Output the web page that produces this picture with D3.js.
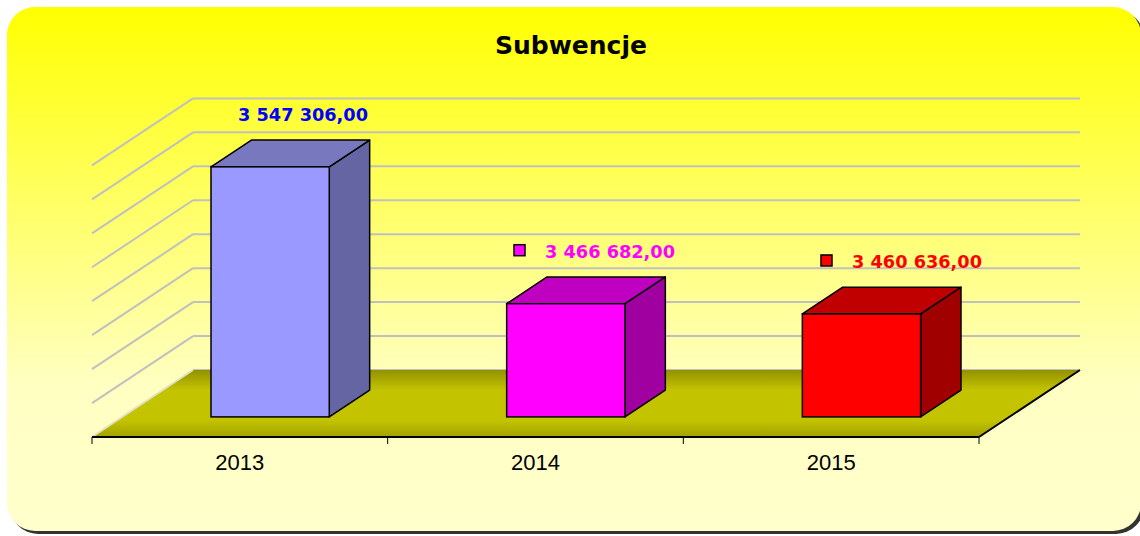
<!DOCTYPE html>
<html>
<head>
<meta charset="utf-8">
<script src="https://cdn.jsdelivr.net/npm/d3@7"></script>
<style>
  body { margin: 0; background: #ffffff; }
  svg { display: block; }
</style>
</head>
<body>
<div id="chart"></div>
<script>
// data
var categories = ["2013", "2014", "2015"];
var values = [3547306.00, 3466682.00, 3460636.00];
var labels = ["3 547 306,00", "3 466 682,00", "3 460 636,00"];
var showKey = [false, true, true];
var valueDomain = [3400000, 3560000];

// colours per bar: front, top, side, label
var frontColors = ["#9999ff", "#ff00ff", "#ff0000"];
var topColors = ["#7878be", "#c000c0", "#c00000"];
var sideColors = ["#6565a4", "#a000a0", "#a00000"];
var labelColors = ["#0000ff", "#ff00ff", "#ff0000"];

var svgWidth = 1140;
var svgHeight = 536;

// floor front edge and depth vector (oblique 3D)
var floorLeft = 92, floorRight = 979, floorY = 437;
var depth = { x: 101, y: -67 };
var plotHeight = 271.6;

var svg = d3.select("#chart")
  .append("svg")
  .attr("width", svgWidth)
  .attr("height", svgHeight);

var defs = svg.append("defs");

var bg = defs.append("linearGradient")
  .attr("id", "bgGrad")
  .attr("x1", 0).attr("y1", 0).attr("x2", 0).attr("y2", 1);
bg.append("stop").attr("offset", "0").attr("stop-color", "#ffff00");
bg.append("stop").attr("offset", "0.72").attr("stop-color", "#ffffc2");
bg.append("stop").attr("offset", "1").attr("stop-color", "#ffffcc");

var fl = defs.append("linearGradient")
  .attr("id", "floorGrad")
  .attr("x1", 0).attr("y1", 0).attr("x2", 0).attr("y2", 1);
fl.append("stop").attr("offset", "0").attr("stop-color", "#929200");
fl.append("stop").attr("offset", "0.3").attr("stop-color", "#c3c300");
fl.append("stop").attr("offset", "0.75").attr("stop-color", "#c3c300");
fl.append("stop").attr("offset", "1").attr("stop-color", "#a2a200");

// panel with shadow
svg.append("rect")
  .attr("x", 10).attr("y", 10)
  .attr("width", 1134).attr("height", 524)
  .attr("rx", 28).attr("ry", 28)
  .attr("fill", "#333");

svg.append("rect")
  .attr("x", 7).attr("y", 7)
  .attr("width", 1134).attr("height", 524)
  .attr("rx", 28).attr("ry", 28)
  .attr("fill", "url(#bgGrad)");

// scales
var xBand = d3.scaleBand()
  .domain(categories)
  .range([floorLeft, floorRight]);

var yScale = d3.scaleLinear()
  .domain(valueDomain)
  .range([0, plotHeight]);

// label anchor positions (start of value text)
var xLabel = d3.scalePoint()
  .domain(categories)
  .range([238, 852]);

var backY = floorY + depth.y;
var backLeft = floorLeft + depth.x;
var backRight = floorRight + depth.x;

var ticks = yScale.ticks(8);

// back wall gridlines
svg.append("g").selectAll("line")
  .data(ticks)
  .enter()
  .append("line")
  .attr("x1", backLeft)
  .attr("x2", backRight)
  .attr("y1", d => backY - yScale(d))
  .attr("y2", d => backY - yScale(d))
  .attr("stroke", "#c0c0c0")
  .attr("stroke-width", 2);

// floor
var floorPts = [
  [floorLeft, floorY], [floorRight, floorY],
  [backRight, backY], [backLeft, backY]
];
svg.append("polygon")
  .attr("points", floorPts.map(p => p.join(",")).join(" "))
  .attr("fill", "url(#floorGrad)");

// side wall gridlines
svg.append("g").selectAll("line")
  .data(ticks)
  .enter()
  .append("line")
  .attr("x1", backLeft)
  .attr("y1", d => backY - yScale(d))
  .attr("x2", floorLeft)
  .attr("y2", d => floorY - yScale(d))
  .attr("stroke", d => d === valueDomain[0] ? "#e0e0c0" : "#c0c0c0")
  .attr("stroke-width", 2);

// floor edges
svg.append("line")
  .attr("x1", floorRight).attr("y1", floorY)
  .attr("x2", backRight).attr("y2", backY)
  .attr("stroke", "#000").attr("stroke-width", 2);

svg.append("line")
  .attr("x1", floorLeft).attr("y1", floorY)
  .attr("x2", floorRight).attr("y2", floorY)
  .attr("stroke", "#000").attr("stroke-width", 2);

// tick marks at category boundaries
var tickXs = categories.map(c => xBand(c)).concat([floorRight]);
svg.append("g").selectAll("line")
  .data(tickXs)
  .enter()
  .append("line")
  .attr("x1", d => d).attr("x2", d => d)
  .attr("y1", floorY).attr("y2", floorY + 7)
  .attr("stroke", "#000").attr("stroke-width", 1);

// category labels
svg.append("g").selectAll("text")
  .data(categories)
  .enter()
  .append("text")
  .attr("x", d => xBand(d) + xBand.bandwidth() / 2)
  .attr("y", 470)
  .attr("text-anchor", "middle")
  .attr("font-family", "Liberation Sans, Arial, sans-serif")
  .attr("font-size", 22)
  .attr("fill", "#000")
  .text(d => d);

// bars
var barW = xBand.bandwidth() / 2.5;
var f0 = 0.3, f1 = 0.7;
var bd = { x: depth.x * (f1 - f0), y: depth.y * (f1 - f0) };

function barGeom(i) {
  var c = categories[i];
  var x0 = xBand(c) + (xBand.bandwidth() - barW) / 2 + depth.x * f0;
  var yb = floorY + depth.y * f0;
  var h = yScale(values[i]);
  return { x0: x0, x1: x0 + barW, yb: yb, yt: yb - h };
}

function pts(arr) {
  return arr.map(p => p[0] + "," + p[1]).join(" ");
}

var idx = values.map((v, i) => i);

var bars = svg.append("g").selectAll("g")
  .data(idx)
  .enter()
  .append("g");

bars.append("polygon")
  .attr("points", i => {
    var g = barGeom(i);
    return pts([[g.x1, g.yb], [g.x1 + bd.x, g.yb + bd.y], [g.x1 + bd.x, g.yt + bd.y], [g.x1, g.yt]]);
  })
  .attr("fill", i => sideColors[i])
  .attr("stroke", "#000").attr("stroke-width", 1.5)
  .attr("stroke-linejoin", "round");

bars.append("polygon")
  .attr("points", i => {
    var g = barGeom(i);
    return pts([[g.x0, g.yt], [g.x1, g.yt], [g.x1 + bd.x, g.yt + bd.y], [g.x0 + bd.x, g.yt + bd.y]]);
  })
  .attr("fill", i => topColors[i])
  .attr("stroke", "#000").attr("stroke-width", 1.5)
  .attr("stroke-linejoin", "round");

bars.append("rect")
  .attr("x", i => barGeom(i).x0)
  .attr("y", i => barGeom(i).yt)
  .attr("width", barW)
  .attr("height", i => barGeom(i).yb - barGeom(i).yt)
  .attr("fill", i => frontColors[i])
  .attr("stroke", "#000").attr("stroke-width", 1.5);

// data labels
var labelG = svg.append("g").selectAll("g")
  .data(idx)
  .enter()
  .append("g");

labelG.filter(i => showKey[i])
  .append("rect")
  .attr("x", i => xLabel(categories[i]) - 31)
  .attr("y", i => barGeom(i).yt - 46 - 13)
  .attr("width", 11).attr("height", 11)
  .attr("fill", i => frontColors[i])
  .attr("stroke", "#000").attr("stroke-width", 1.5);

labelG.append("text")
  .attr("x", i => xLabel(categories[i]))
  .attr("y", i => barGeom(i).yt - 46)
  .attr("font-family", "DejaVu Sans, Verdana, sans-serif")
  .attr("font-weight", "bold")
  .attr("font-size", 18)
  .attr("textLength", 130)
  .attr("lengthAdjust", "spacingAndGlyphs")
  .attr("fill", i => labelColors[i])
  .text(i => labels[i]);

// title
svg.append("text")
  .attr("x", 571)
  .attr("y", 54)
  .attr("text-anchor", "middle")
  .attr("font-family", "DejaVu Sans, Verdana, sans-serif")
  .attr("font-weight", "bold")
  .attr("font-size", 24)
  .attr("textLength", 152)
  .attr("lengthAdjust", "spacingAndGlyphs")
  .attr("fill", "#000")
  .text("Subwencje");
</script>
</body>
</html>
